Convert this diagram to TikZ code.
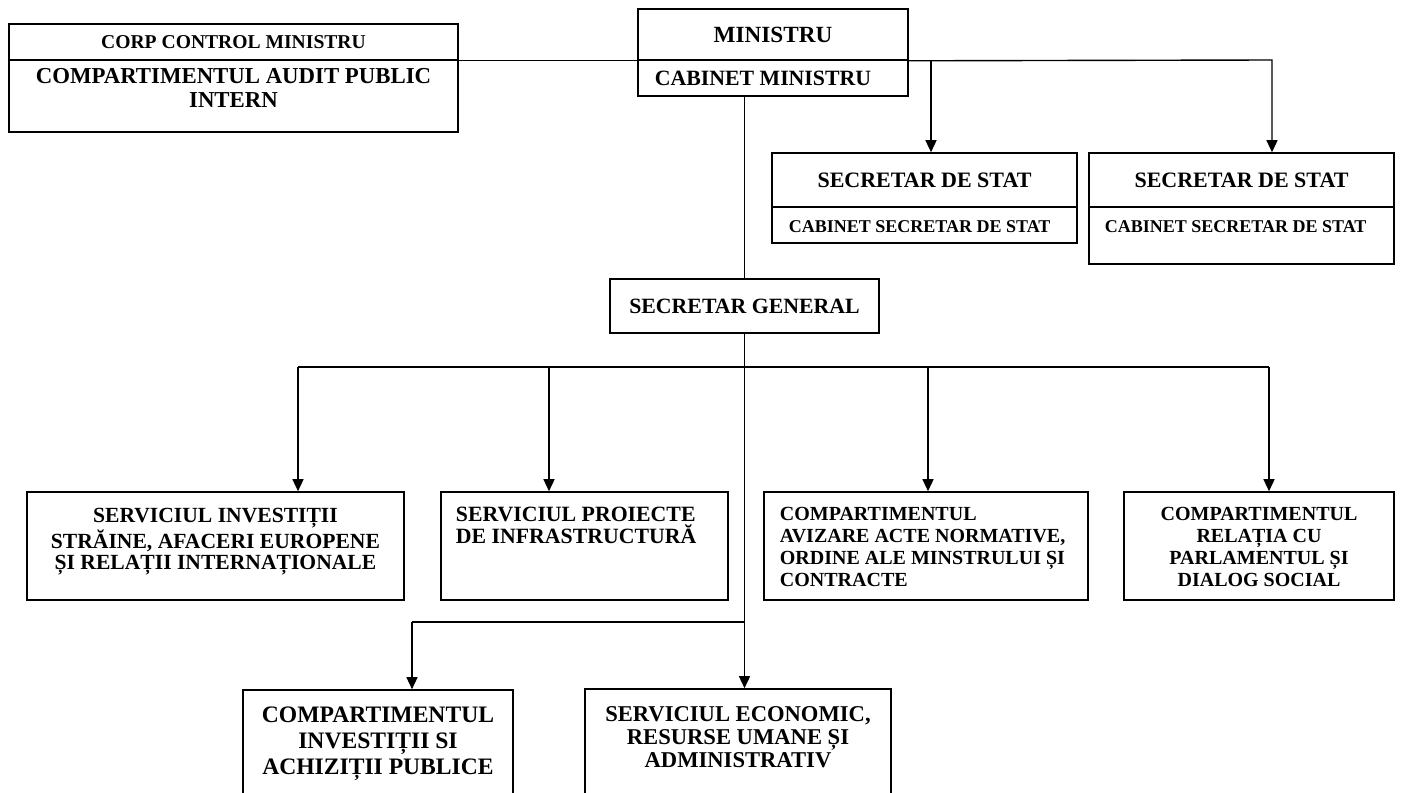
\documentclass[tikz,border=0pt]{standalone}
\usepackage{fontspec}
\setmainfont{Liberation Serif}
\usetikzlibrary{arrows.meta,positioning}
\newcommand{\boxfont}[2]{\fontsize{#1}{#2}\selectfont\bfseries}
\tikzset{
  arr/.style={-{Triangle[length=6pt,width=5.5pt]},line width=0.7pt},
  unitbox/.style={draw,line width=0.8pt,inner sep=0pt},
  lbl/.style={inner sep=0pt,align=center}
}

\begin{document}
\begin{tikzpicture}[x=0.5pt,y=-0.5pt,line width=0.7pt]
  \clip (0,0) rectangle (1401,792);
  \fill[white] (0,0) rectangle (1401,792);
  % top: control, minister, state secretaries
  \node[unitbox,minimum width=224.5pt,minimum height=18pt,font={\boxfont{9.8}{10}}] (corptop) at (233.5,42) {CORP CONTROL MINISTRU};
  \node[unitbox,minimum width=224.5pt,minimum height=36pt] (corpbot) at (233.5,96) {};
  \node[lbl,below=4.5pt of corpbot.north,font={\boxfont{11.4}{12}}] (corpbott) {COMPARTIMENTUL AUDIT PUBLIC\\INTERN};
  \node[unitbox,minimum width=135pt,minimum height=25.5pt,font={\boxfont{11.6}{12}}] (mintop) at (773,34.5) {MINISTRU};
  \node[unitbox,minimum width=135pt,minimum height=18pt] (mincab) at (773,78) {};
  \node[lbl,right=8.5pt of mincab.west,font={\boxfont{10.9}{11}}] (mincabt) {CABINET MINISTRU};
  \node[unitbox,minimum width=152.5pt,minimum height=27pt,font={\boxfont{11}{11}}] (ss1top) at (924.5,180) {SECRETAR DE STAT};
  \node[unitbox,minimum width=152.5pt,minimum height=18pt] (ss1cab) at (924.5,225) {};
  \node[lbl,below right=7pt and 8.5pt of ss1cab.north west,font={\boxfont{9}{9}}] (ss1cabt) {CABINET SECRETAR DE STAT};
  \node[unitbox,minimum width=152.5pt,minimum height=27pt,font={\boxfont{11}{11}}] (ss2top) at (1241.5,180) {SECRETAR DE STAT};
  \node[unitbox,minimum width=152.5pt,minimum height=28.5pt] (ss2cab) at (1241.5,235.5) {};
  \node[lbl,below right=7pt and 8pt of ss2cab.north west,font={\boxfont{9}{9}}] (ss2cabt) {CABINET SECRETAR DE STAT};
  \node[unitbox,minimum width=134.5pt,minimum height=27pt,font={\boxfont{10.9}{11}}] (sg) at (744.5,306) {SECRETAR GENERAL};
  % services row
  \node[unitbox,minimum width=188.5pt,minimum height=54pt] (b1) at (215.5,546) {};
  \node[lbl,below=8pt of b1.north,font={\boxfont{10.8}{10.5}}] (b1t) {SERVICIUL INVESTIȚII\\STRĂINE, AFACERI EUROPENE\\ȘI RELAȚII INTERNAȚIONALE};
  \node[unitbox,minimum width=143.5pt,minimum height=54pt] (b2) at (584.5,546) {};
  \node[lbl,align=left,below right=7.5pt and 7.5pt of b2.north west,font={\boxfont{10.9}{11}}] (b2t) {SERVICIUL PROIECTE\\DE INFRASTRUCTURĂ};
  \node[unitbox,minimum width=162pt,minimum height=54pt] (b3) at (926,546) {};
  \node[lbl,align=left,below right=7.5pt and 8pt of b3.north west,font={\boxfont{10}{11}}] (b3t) {COMPARTIMENTUL\\AVIZARE ACTE NORMATIVE,\\ORDINE ALE MINSTRULUI ȘI\\CONTRACTE};
  \node[unitbox,minimum width=135pt,minimum height=54pt] (b4) at (1259,546) {};
  \node[lbl,below=7.5pt of b4.north,font={\boxfont{10}{11}}] (b4t) {COMPARTIMENTUL\\RELAȚIA CU\\PARLAMENTUL ȘI\\DIALOG SOCIAL};
  % bottom row
  \node[unitbox,minimum width=135pt,minimum height=55pt] (c1) at (378,745) {};
  \node[lbl,below=8.5pt of c1.north,font={\boxfont{11.8}{13}}] (c1t) {COMPARTIMENTUL\\INVESTIȚII SI\\ACHIZIȚII PUBLICE};
  \node[unitbox,minimum width=153pt,minimum height=55.5pt] (c2) at (738,744.5) {};
  \node[lbl,below=9pt of c2.north,font={\boxfont{11.3}{11.5}}] (c2t) {SERVICIUL ECONOMIC,\\RESURSE UMANE ȘI\\ADMINISTRATIV};
  % connectors
  \coordinate (j1) at (931,60);
  \coordinate (j2) at (1272,60);
  \draw (corptop.south east) -- (mintop.south west);
  \draw[arr] (mintop.south east) -- (j2) -- (j2 |- ss2top.north);
  \draw[arr] (j1) -- (j1 |- ss1top.north);
  \draw (sg.north |- mincab.south) -- (sg.north);
  \draw[arr] (sg.south) -- (sg.south |- c2.north);
  \coordinate (k1) at (298,367);
  \coordinate (k2) at (549,367);
  \coordinate (k3) at (928,367);
  \coordinate (k4) at (1269,367);
  \draw (k1) -- (k4);
  \foreach \k/\b in {k1/b1,k2/b2,k3/b3,k4/b4}
    \draw[arr] (\k) -- (\k |- \b.north);
  \coordinate (m1) at (412,622);
  \draw (sg.south |- m1) -- (m1);
  \draw[arr] (m1) -- (m1 |- c1.north);
\end{tikzpicture}
\end{document}
